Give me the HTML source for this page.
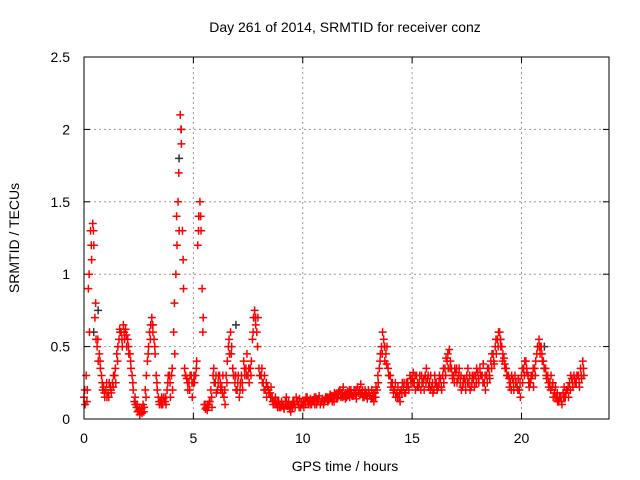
<!DOCTYPE html>
<html><head><meta charset="utf-8"><style>
body{margin:0;background:#fff;}
svg{display:block;font-family:"Liberation Sans",sans-serif;}
</style></head><body>
<svg id="chart" width="640" height="480" xmlns="http://www.w3.org/2000/svg">
<text x="345" y="32" font-size="14" text-anchor="middle" fill="#000">Day 261 of 2014, SRMTID for receiver conz</text>
<text x="345" y="471" font-size="14" text-anchor="middle">GPS time / hours</text>
<text transform="translate(19,238) rotate(-90)" font-size="14" text-anchor="middle">SRMTID / TECUs</text>
<g id="grid"></g>
<g id="ticks"></g>
<g id="marks"></g>
<rect x="84" y="57" width="525" height="362" fill="none" stroke="#000" stroke-width="1"/>
</svg>
<script>
const xTicks=[0,5,10,15,20];
const yTicks=[0,0.5,1,1.5,2,2.5];
const yTickLabels=["0","0.5","1","1.5","2","2.5"];
const step=0.1;
const valuesA=[0.15,0.3,0.9,1.3,1.35,0.7,0.5,0.45,0.3,0.22,
0.2,0.18,0.22,0.25,0.3,0.45,0.55,0.6,0.65,0.62,
0.55,0.45,0.3,0.12,0.08,0.06,0.05,0.1,0.2,0.4,
0.6,0.7,0.55,0.3,0.15,0.12,0.1,0.12,0.2,0.3,
0.3,0.6,1.0,1.5,2.1,1.3,0.35,0.28,0.25,0.3,
0.25,0.3,1.2,1.5,0.9,0.1,0.08,0.1,0.2,0.3,
0.25,0.2,0.3,0.22,0.15,0.3,0.5,0.6,0.35,0.25,
0.2,0.15,0.3,0.4,0.35,0.3,0.35,0.55,0.75,0.6,
0.35,0.3,0.25,0.2,0.22,0.18,0.15,0.12,0.1,0.12,
0.08,0.1,0.12,0.09,0.07,0.1,0.12,0.15,0.1,0.08,
0.1,0.12,0.15,0.12,0.1,0.13,0.15,0.12,0.1,0.14,
0.12,0.15,0.13,0.16,0.14,0.17,0.15,0.2,0.18,0.16,
0.15,0.18,0.2,0.16,0.17,0.22,0.2,0.18,0.15,0.18,
0.2,0.16,0.15,0.18,0.2,0.35,0.5,0.55,0.45,0.35,
0.3,0.25,0.2,0.18,0.15,0.2,0.22,0.18,0.25,0.3,
0.28,0.25,0.3,0.22,0.2,0.25,0.3,0.28,0.25,0.22,
0.2,0.25,0.22,0.28,0.3,0.35,0.4,0.48,0.35,0.3,
0.32,0.28,0.25,0.22,0.28,0.3,0.25,0.22,0.28,0.3,
0.32,0.35,0.3,0.25,0.3,0.35,0.4,0.45,0.5,0.55,
0.6,0.5,0.42,0.35,0.3,0.25,0.28,0.3,0.22,0.2,
0.3,0.35,0.4,0.3,0.25,0.3,0.35,0.45,0.55,0.5,
0.4,0.35,0.3,0.25,0.22,0.18,0.15,0.12,0.15,0.18,
0.15,0.2,0.25,0.28,0.3,0.25,0.3,0.35,0.4];
const valuesB=[0.1,0.2,0.6,1.1,1.2,0.55,0.4,0.35,0.2,0.15,
0.15,0.25,0.18,0.3,0.25,0.5,0.6,0.5,0.55,0.5,
0.45,0.35,0.2,0.1,0.05,0.03,0.04,0.08,0.3,0.5,
0.65,0.6,0.45,0.2,0.1,0.15,0.15,0.1,0.3,0.15,
0.2,0.45,1.2,1.3,1.9,0.9,0.3,0.2,0.3,0.15,
0.25,0.4,1.4,1.3,0.7,0.07,0.1,0.12,0.08,0.25,
0.18,0.3,0.2,0.3,0.1,0.4,0.45,0.5,0.3,0.2,
0.3,0.25,0.2,0.3,0.45,0.25,0.4,0.7,0.65,0.7,
0.3,0.25,0.3,0.15,0.18,0.22,0.1,0.15,0.08,0.1,
0.1,0.07,0.15,0.12,0.05,0.12,0.08,0.12,0.14,0.1,
0.08,0.15,0.1,0.14,0.13,0.1,0.12,0.16,0.12,0.1,
0.15,0.12,0.17,0.12,0.18,0.14,0.19,0.15,0.22,0.14,
0.19,0.15,0.16,0.2,0.14,0.18,0.24,0.15,0.2,0.14,
0.16,0.2,0.12,0.22,0.25,0.45,0.6,0.4,0.5,0.3,
0.25,0.18,0.15,0.22,0.12,0.25,0.18,0.22,0.2,0.25,
0.32,0.2,0.25,0.3,0.25,0.2,0.35,0.22,0.3,0.18,
0.25,0.2,0.3,0.2,0.25,0.42,0.35,0.4,0.28,0.35,
0.25,0.35,0.2,0.28,0.2,0.35,0.2,0.3,0.22,0.35,
0.25,0.3,0.38,0.2,0.35,0.28,0.45,0.38,0.45,0.6,
0.5,0.45,0.35,0.3,0.22,0.3,0.2,0.25,0.28,0.15,
0.25,0.4,0.32,0.22,0.3,0.22,0.4,0.5,0.45,0.4,
0.35,0.28,0.22,0.3,0.15,0.22,0.12,0.15,0.1,0.22,
0.2,0.15,0.3,0.22,0.25,0.3,0.22,0.28,0.3];
const valuesC=[0.2,0.12,1.0,1.2,1.3,0.8,0.55,0.4,0.25,0.18,
0.25,0.15,0.2,0.22,0.35,0.4,0.62,0.55,0.6,0.58,
0.5,0.4,0.25,0.15,0.1,0.08,0.07,0.05,0.15,0.45,
0.55,0.65,0.5,0.25,0.12,0.1,0.14,0.15,0.25,0.25,
0.35,0.8,1.4,1.7,2.0,1.1,0.3,0.25,0.2,0.25,
0.3,0.35,1.3,1.4,0.6,0.1,0.06,0.12,0.15,0.35,
0.3,0.25,0.25,0.18,0.2,0.25,0.55,0.45,0.3,0.3,
0.25,0.2,0.25,0.35,0.3,0.35,0.3,0.6,0.7,0.5,
0.3,0.35,0.2,0.25,0.2,0.15,0.12,0.1,0.12,0.08,
0.12,0.08,0.1,0.1,0.09,0.08,0.1,0.12,0.08,0.12,
0.12,0.1,0.12,0.1,0.12,0.15,0.1,0.14,0.12,0.12,
0.14,0.13,0.15,0.14,0.12,0.15,0.17,0.17,0.15,0.18,
0.17,0.2,0.17,0.18,0.2,0.18,0.17,0.2,0.17,0.16,
0.18,0.14,0.18,0.15,0.3,0.4,0.45,0.5,0.38,0.3,
0.22,0.2,0.25,0.15,0.18,0.18,0.25,0.25,0.22,0.28,
0.25,0.3,0.22,0.25,0.3,0.28,0.25,0.3,0.2,0.25,
0.3,0.22,0.25,0.22,0.35,0.3,0.45,0.35,0.3,0.25,
0.35,0.3,0.3,0.25,0.25,0.25,0.3,0.25,0.3,0.25,
0.28,0.3,0.25,0.3,0.25,0.3,0.35,0.4,0.55,0.5,
0.55,0.4,0.38,0.3,0.28,0.2,0.25,0.25,0.2,0.25,
0.35,0.3,0.35,0.25,0.28,0.35,0.3,0.5,0.5,0.45,
0.35,0.3,0.25,0.2,0.25,0.15,0.18,0.15,0.12,0.15,
0.18,0.22,0.2,0.25,0.28,0.3,0.25,0.3,0.35];
const blackHours=[0.4,0.6,3.1,4.3,4.4,5.2,6.9,7.8,13.7,19.0,21.0];
const blackValues=[0.6,0.75,0.65,1.8,2.0,1.4,0.65,0.7,0.5,0.55,0.5];

const X0=84,X1=609,Y0=419,Y1=57;
const xs=h=>X0+(h/24)*(X1-X0);
const ys=v=>Y0-(v/2.5)*(Y0-Y1);
const NS="http://www.w3.org/2000/svg";
const grid=document.getElementById('grid'),ticks=document.getElementById('ticks'),marks=document.getElementById('marks');
function mk(t,a,p){const e=document.createElementNS(NS,t);for(const k in a)e.setAttribute(k,a[k]);p.appendChild(e);return e;}
yTicks.forEach((v,i)=>{
 const y=ys(v);
 if(i>0&&i<yTicks.length-1){const g=mk('line',{x1:X0,x2:X1,y1:y,y2:y,stroke:'#999','stroke-dasharray':'2,3'},grid);
 
 }
 mk('line',{x1:X0,x2:X0+6,y1:y,y2:y,stroke:'#000'},ticks);
 mk('line',{x1:X1,x2:X1-6,y1:y,y2:y,stroke:'#000'},ticks);
 const t=mk('text',{x:X0-14,y:y+5,'font-size':14,'text-anchor':'end'},ticks);t.textContent=yTickLabels[i];
 
 
});
xTicks.forEach(h=>{
 const x=xs(h);
 if(h>0){const g=mk('line',{x1:x,x2:x,y1:Y0,y2:Y1,stroke:'#999','stroke-dasharray':'2,3'},grid);
 
 }
 mk('line',{x1:x,x2:x,y1:Y0,y2:Y0-6,stroke:'#000'},ticks);
 mk('line',{x1:x,x2:x,y1:Y1,y2:Y1+6,stroke:'#000'},ticks);
 const t=mk('text',{x:x,y:Y0+24,'font-size':14,'text-anchor':'middle'},ticks);t.textContent=String(h);
 
 
});
function plus(x,y,c,name){
 const p=mk('path',{d:`M${x-4},${y}h8M${x},${y-4}v8`,stroke:c,'stroke-width':1.5,fill:'none'},marks);
 
 
}
blackHours.forEach((h,i)=>plus(xs(h)+1,ys(blackValues[i]),'#333','point-black'));
valuesA.forEach((v,i)=>plus(xs(i*step),ys(v),'#f00','point-red'));
valuesB.forEach((v,i)=>plus(xs(i*step+step/2),ys(v),'#f00','point-red'));
valuesC.forEach((v,i)=>plus(xs(i*step+step/3),ys(v),'#f00','point-red'));
</script>
</body></html>
